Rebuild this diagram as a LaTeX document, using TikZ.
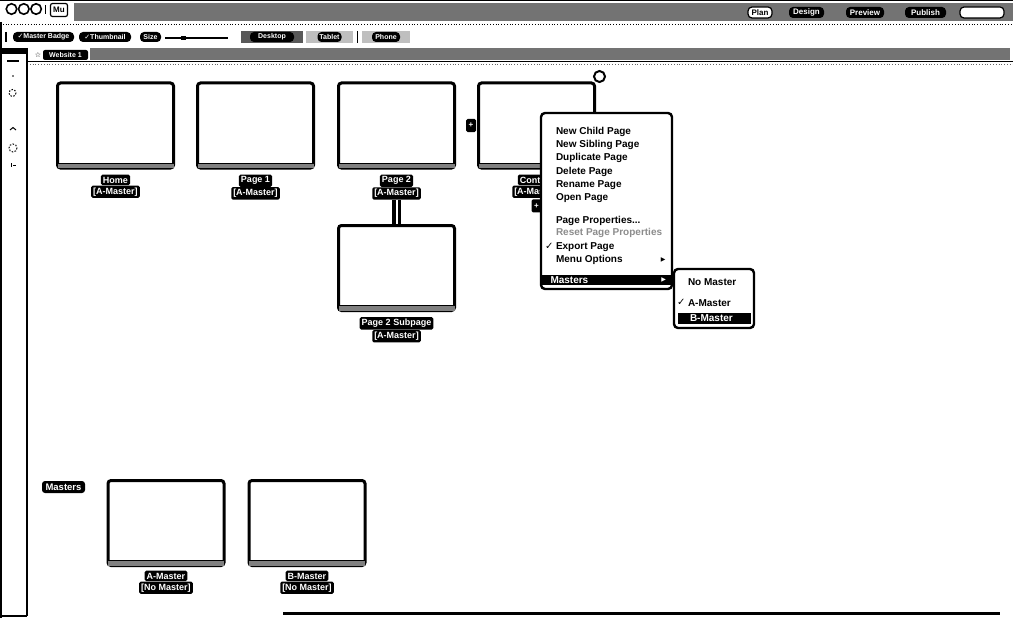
\documentclass[tikz,border=0pt]{standalone}
\usepackage{fontspec}
\setmainfont{Liberation Sans}
\newfontfamily\symfont{DejaVu Sans}
\usetikzlibrary{arrows}
\tikzstyle{pagebox}=[draw, line width=3pt, rounded corners=3pt, fill=white,
  minimum width=116pt, minimum height=85pt, inner sep=0pt]
\tikzstyle{pagetag}=[fill=black, text=white, rounded corners=1.5pt, inner sep=2pt,
  minimum height=10.5pt, font=\bfseries\fontsize{9}{9}\selectfont]
\tikzstyle{pill}=[fill=black, text=white, rounded corners=4pt, inner sep=1.5pt,
  minimum height=10pt, font=\bfseries\fontsize{7}{8}\selectfont]
\tikzstyle{button}=[pill, minimum height=11pt, font=\bfseries\fontsize{8}{9}\selectfont]
\tikzstyle{ghost}=[button, fill=white, draw, line width=1.2pt, text=black]
\tikzstyle{zone}=[inner sep=0pt, minimum height=12pt]
\tikzstyle{light}=[circle, draw, line width=1.6pt, fill=white, minimum size=10.5pt, inner sep=0pt]
\tikzstyle{logo}=[draw, line width=1.2pt, rounded corners=2pt, fill=white, inner sep=0pt,
  minimum width=17pt, minimum height=13pt, font=\bfseries\fontsize{8}{8}\selectfont]
\tikzstyle{handle}=[fill=black, text=white, rounded corners=1.5pt, inner sep=0pt,
  minimum width=10pt, minimum height=13pt, font=\bfseries\fontsize{8}{8}\selectfont]
\tikzstyle{closer}=[circle, draw, line width=2pt, fill=white, minimum size=11pt, inner sep=0pt]
\tikzstyle{popup}=[draw, line width=2.4pt, fill=white, rounded corners=4pt, inner sep=0pt]
\tikzstyle{menuitem}=[anchor=west, inner sep=0pt, font=\bfseries\fontsize{10}{10}\selectfont]
\tikzstyle{menutip}=[inner sep=0pt, font=\symfont\fontsize{6}{6}\selectfont]
\tikzstyle{menubar}=[fill=black, inner sep=0pt, minimum height=10pt]
\tikzstyle{dither}=[fill=black!55]
\tikzstyle{link}=[draw, line width=3.2pt, double=white, double distance=2pt]
\newcommand{\pagestrip}[1]{%
  \fill [black!50] ([shift={(1.5pt,1.5pt)}]#1.south west)
    rectangle ([shift={(-1.5pt,6.5pt)}]#1.south east);
  \draw [line width=0.8pt] ([shift={(1.5pt,6.5pt)}]#1.south west)
    -- ([shift={(-1.5pt,6.5pt)}]#1.south east);}

\begin{document}
\begin{tikzpicture}[x=1pt, y=-1pt]

  \useasboundingbox (0,0) rectangle (1013,618);

  % Draw title bar
  \draw [line width=1.5pt] (0,0.75) -- (1013,0.75);
  \path [dither] (74,3) rectangle (1013,21);
  \path (11.5,9) node (c1) [light] {};
  \path (c1.center)+(12.3,0) node (c2) [light] {};
  \path (c2.center)+(12.3,0) node (c3) [light] {};
  \draw [line width=1.2pt] (45.5,5) -- (45.5,14);
  \path (59,10) node (logo) [logo] {Mu};

  \path (760,12.5) node (b1) [ghost, minimum width=24pt] {Plan};
  \path (806.5,12.5) node (b2) [button, minimum width=35pt] {Design};
  \path (865,12.5) node (b3) [button, minimum width=38pt] {Preview};
  \path (925.5,12.5) node (b4) [button, minimum width=41pt] {Publish};
  \path (982,12.5) node (b5) [ghost, minimum width=44pt] {};
  \draw [dotted, line width=0.8pt] (0,24) -- (1013,24);

  % Draw tool bar
  \draw [line width=1.2pt] (6,32) -- (6,42);
  \path (43.5,37) node (t1) [pill, minimum width=61pt] {{\symfont\char"2713}Master Badge};
  \path (105,37) node (t2) [pill, minimum width=52pt] {{\symfont\char"2713}Thumbnail};
  \path (150.5,37) node (t3) [pill, minimum width=21pt] {Size};
  \draw [line width=1.2pt] (165,38) -- (228,38);
  \fill (181,36.5) rectangle (186,40);
  \path (272,37) node (z1) [zone, fill=black!65, minimum width=62pt] {};
  \path (z1.center) node (t4) [pill, minimum width=44pt] {Desktop};
  \path (329.5,37) node (z2) [zone, fill=black!25, minimum width=47pt] {};
  \path (z2.center) node (t5) [pill, minimum width=24pt] {Tablet};
  \draw [line width=1.2pt] (357.5,31) -- (357.5,43);
  \path (386,37) node (z3) [zone, fill=black!25, minimum width=48pt] {};
  \path (z3.center) node (t6) [pill, minimum width=28pt] {Phone};

  % Draw tab bar and side bar
  \path [dither] (90,48) rectangle (1010,60);
  \fill (0,48) rectangle (27,54);
  \path (38,55) node (star) [inner sep=0pt, font=\symfont\fontsize{7}{7}\selectfont] {\char"2606};
  \path (65.5,55) node (tab) [pill, minimum width=45pt, rounded corners=2pt] {Website 1};
  \draw [line width=1.2pt] (27,61.5) -- (1013,61.5);
  \draw [black!60, dotted, line width=0.8pt] (27,64) -- (1013,64);
  \draw [line width=2.2pt] (27,48) -- (27,616);
  \draw [line width=1.5pt] (0.75,22) -- (0.75,618);
  \draw [line width=1.5pt] (0,616) -- (27,616);
  \draw [line width=1.5pt] (7,61) -- (19,61);
  \fill (13,76) circle (0.9);
  \draw [line width=1pt, dash pattern=on 1.5pt off 1.5pt] (12.5,93) circle (3.5);
  \draw [line width=1pt] (10,130) -- (13,127.5) -- (16,130);
  \draw [line width=1pt, dash pattern=on 1.5pt off 1.5pt] (13,148) circle (4);
  \draw [line width=1pt] (11,163) -- (11,167) (13,165) -- (16,165);
  \draw [line width=3pt] (283,613) -- (1000,613);

  % Draw site pages
  \path (115.5,125.5) node (p1) [pagebox] {};
  \path (p1.center)+(140,0) node (p2) [pagebox] {};
  \path (p2.center)+(141,0) node (p3) [pagebox] {};
  \path (p3.center)+(140,0) node (p4) [pagebox] {};
  \path (p3.center)+(0,142.5) node (p5) [pagebox] {};
  \pagestrip{p1}
  \pagestrip{p2}
  \pagestrip{p3}
  \pagestrip{p4}
  \pagestrip{p5}

  \path (p1.south)+(0,5) node (p1n) [pagetag, anchor=north] {Home};
  \path (p1n.south) node (p1m) [pagetag, anchor=north] {[A-Master]};
  \path (p2.south)+(0,5) node (p2n) [pagetag, anchor=north] {Page 1};
  \path (p2n.south) node (p2m) [pagetag, anchor=north] {[A-Master]};
  \path (p3.south)+(0,5) node (p3n) [pagetag, anchor=north] {Page 2};
  \path (p3n.south) node (p3m) [pagetag, anchor=north] {[A-Master]};
  \path (p4.south)+(0,5) node (p4n) [pagetag, anchor=north] {Contact};
  \path (p4n.south) node (p4m) [pagetag, anchor=north] {[A-Master]};
  \path (p5.south)+(0,5) node (p5n) [pagetag, anchor=north] {Page 2 Subpage};
  \path (p5n.south) node (p5m) [pagetag, anchor=north] {[A-Master]};

  % Draw link to the child page
  \path [link] (p3m.south) -- (p5.north);

  % Draw handles of the selected page
  \path (p4.west)+(-6,0) node (p4l) [handle] {+};
  \path (p4m.south)+(0,1) node (p4b) [handle, anchor=north] {+};
  \path (p4.north east)+(3.5,-5) node (p4x) [closer] {};

  % Draw master pages
  \path (63.5,487) node (mtag) [pagetag, minimum width=43pt, minimum height=12pt,
    rounded corners=3pt, font=\bfseries\fontsize{9.5}{9.5}\selectfont] {Masters};
  \path (166,523) node (m1) [pagebox] {};
  \path (m1.center)+(141,0) node (m2) [pagebox] {};
  \pagestrip{m1}
  \pagestrip{m2}
  \path (m1.south)+(0,3.5) node (m1n) [pagetag, anchor=north] {A-Master};
  \path (m1n.south) node (m1m) [pagetag, anchor=north] {[No Master]};
  \path (m2.south)+(0,3.5) node (m2n) [pagetag, anchor=north] {B-Master};
  \path (m2n.south) node (m2m) [pagetag, anchor=north] {[No Master]};

  % Draw context menu
  \path (606.5,201) node (menu) [popup, minimum width=131pt, minimum height=176pt] {};
  \path (menu.north west)+(16,20) node (i1) [menuitem] {New Child Page};
  \path (i1.west)+(0,13.3) node (i2) [menuitem] {New Sibling Page};
  \path (i2.west)+(0,13.3) node (i3) [menuitem] {Duplicate Page};
  \path (i3.west)+(0,13.3) node (i4) [menuitem] {Delete Page};
  \path (i4.west)+(0,13.3) node (i5) [menuitem] {Rename Page};
  \path (i5.west)+(0,13.3) node (i6) [menuitem] {Open Page};
  \path (i6.west)+(0,22.4) node (i7) [menuitem] {Page Properties...};
  \path (i7.west)+(0,12.6) node (i8) [menuitem, text=black!45] {Reset Page Properties};
  \path (i8.west)+(0,13.4) node (i9) [menuitem] {Export Page};
  \path (i9.west)+(-2,0) node (i9c) [menuitem, anchor=east] {\symfont\char"2713};
  \path (i9.west)+(0,13.3) node (i10) [menuitem] {Menu Options};
  \path (i10.west -| menu.east)+(-10,0) node (i10t) [menutip] {\char"25B6};
  \path (menu.south)+(0,-10) node (mbar) [menubar, minimum width=130pt] {};
  \path (mbar.west)+(9,0) node (i11) [menuitem, text=white] {Masters};
  \path (mbar.east)+(-8,0) node (i11t) [menutip, text=white] {\char"25B6};

  % Draw masters sub menu
  \path (714,298.5) node (sub) [popup, minimum width=80pt, minimum height=59pt] {};
  \path (sub.north west)+(15,14) node (s1) [menuitem] {No Master};
  \path (s1.west)+(0,21) node (s2) [menuitem] {A-Master};
  \path (s2.west)+(-2,0) node (s2c) [menuitem, anchor=east] {\symfont\char"2713};
  \path (sub.center)+(0,20) node (sbar) [menubar, minimum width=73pt, minimum height=11pt] {};
  \path (sbar.west)+(12.5,0) node (s3) [menuitem, text=white] {B-Master};
\end{tikzpicture}
\end{document}
